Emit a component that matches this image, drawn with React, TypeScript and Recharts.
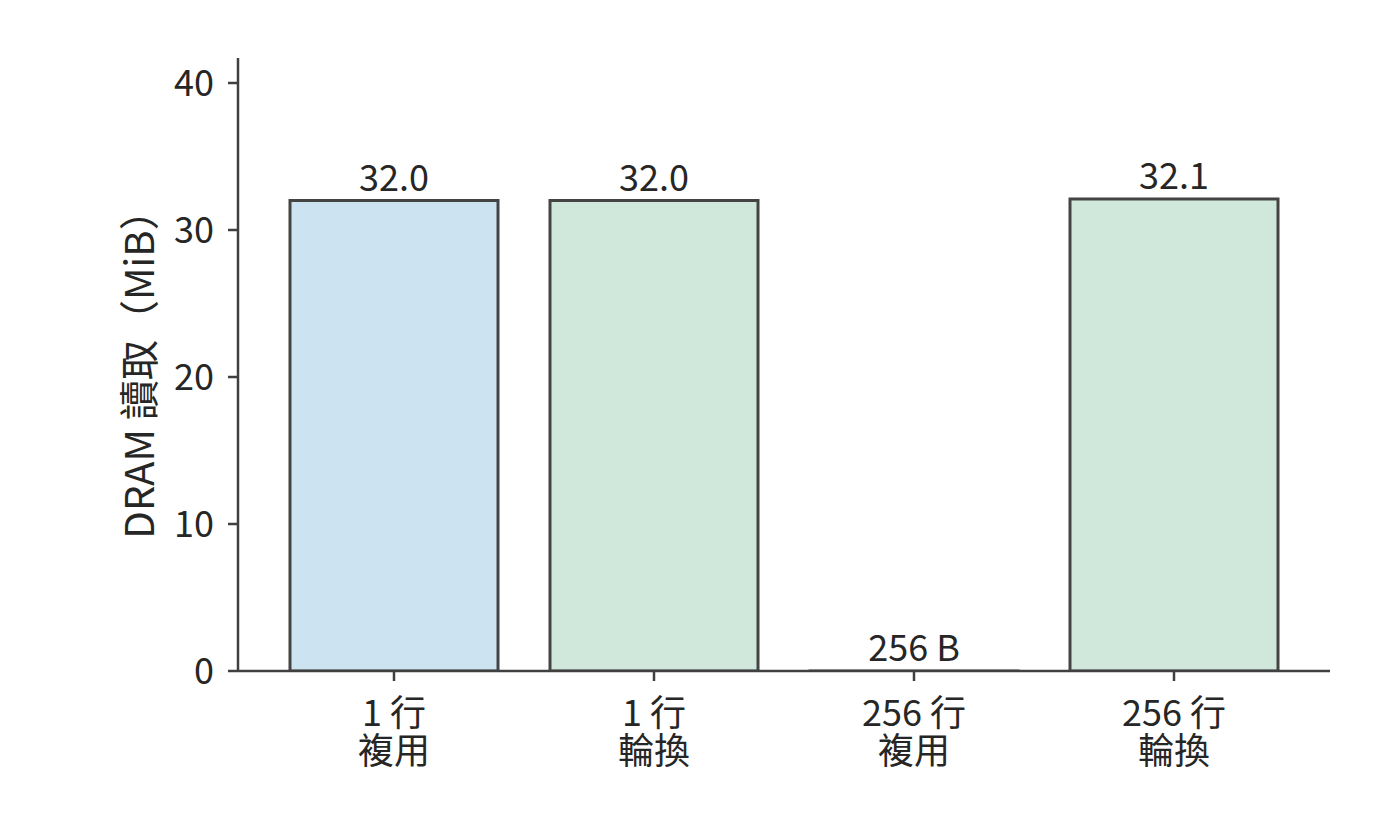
import { BarChart, Bar, XAxis, YAxis, Cell, LabelList } from 'recharts';

const rowLabels = ['1 行', '1 行', '256 行', '256 行'];
const modeLabels = ['複用', '輪換', '複用', '輪換'];
const readsMiB = [32.0, 32.0, 256 / 1048576, 32.1];
const valueLabels = ['32.0', '32.0', '256 B', '32.1'];
const barColors = ['#cce3f2', '#d0e8dc', '#cce3f2', '#d0e8dc'];
const yTicks = [0, 10, 20, 30, 40];

const data = readsMiB.map((v, i) => ({
  key: `${rowLabels[i]}|${modeLabels[i]}`,
  reads: v,
  label: valueLabels[i],
}));

const FONT = '"Noto Sans CJK TC", "Noto Sans", sans-serif';
const INK = '#262626';
const AXIS = '#404040';
const FS = 36;

function XTick({ x, y, payload }: any) {
  const [row, mode] = String(payload.value).split('|');
  return (
    <g transform={`translate(${x},${y})`}>
      <text textAnchor="middle" fill={INK} fontSize={FS} fontFamily={FONT}>
        <tspan x={0} dy={43}>{row}</tspan>
        <tspan x={0} dy={38}>{mode}</tspan>
      </text>
    </g>
  );
}

function ValueLabel({ x, y, width, index }: any) {
  return (
    <text
      x={x + width / 2}
      y={y - 10}
      textAnchor="middle"
      fill={INK}
      fontSize={FS}
      fontFamily={FONT}
    >
      {valueLabels[index]}
    </text>
  );
}

export default function App() {
  return (
    <div style={{ position: 'absolute', left: 0, top: 0, width: 1400, height: 840, background: '#fff' }}>
      <BarChart
        width={1400}
        height={840}
        data={data}
        margin={{ top: 58, right: 70, bottom: 0, left: 0 }}
        barCategoryGap="10%"
      >
        <XAxis
          dataKey="key"
          height={169}
          padding={{ left: 26, right: 26 }}
          tick={<XTick />}
          tickSize={10}
          axisLine={{ stroke: AXIS, strokeWidth: 2.5 }}
          tickLine={{ stroke: AXIS, strokeWidth: 2.5 }}
          interval={0}
        />
        <YAxis
          width={238}
          domain={[0, 41.7]}
          ticks={yTicks}
          allowDataOverflow
          tickSize={10}
          tickMargin={14}
          tick={{ fill: INK, fontSize: FS, fontFamily: FONT }}
          axisLine={{ stroke: AXIS, strokeWidth: 2.5 }}
          tickLine={{ stroke: AXIS, strokeWidth: 2.5 }}
          label={{
            value: 'DRAM 讀取（MiB）',
            angle: -90,
            position: 'insideLeft',
            offset: 0,
            dx: 140,
            dy: 0,
            fill: INK,
            fontSize: 40,
            fontFamily: FONT,
            style: { textAnchor: 'middle' },
          }}
        />
        <Bar dataKey="reads" stroke="#444444" strokeWidth={3} isAnimationActive={false}>
          {data.map((d, i) => (
            <Cell key={d.key} fill={barColors[i]} />
          ))}
          <LabelList dataKey="label" content={<ValueLabel />} />
        </Bar>
      </BarChart>
    </div>
  );
}
